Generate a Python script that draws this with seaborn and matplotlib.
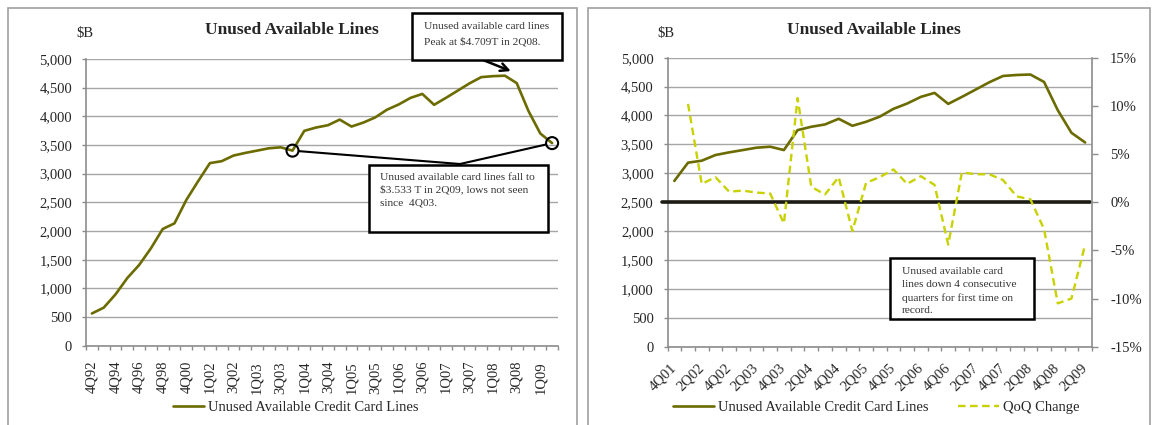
"""plot.py - Unused available credit card lines, two panels (history + QoQ change)."""

import matplotlib
matplotlib.use("Agg")
import matplotlib.pyplot as plt
import matplotlib.patches as mpatches
from matplotlib.ticker import FuncFormatter, MultipleLocator, FixedLocator
import seaborn as sns

# ── data ─────────────────────────────────────────────────────────────────────
# annual year-end points, 4Q92 .. 4Q00 ($B)
annual_labels = ["4Q92", "4Q93", "4Q94", "4Q95", "4Q96", "4Q97", "4Q98", "4Q99", "4Q00"]
annual_lines = [562, 663, 895, 1180, 1407, 1698, 2035, 2134, 2541]

# quarterly points, 4Q01 .. 2Q09 ($B)
quarter_labels = [
    "4Q01", "1Q02", "2Q02", "3Q02", "4Q02", "1Q03", "2Q03", "3Q03", "4Q03",
    "1Q04", "2Q04", "3Q04", "4Q04", "1Q05", "2Q05", "3Q05", "4Q05",
    "1Q06", "2Q06", "3Q06", "4Q06", "1Q07", "2Q07", "3Q07", "4Q07",
    "1Q08", "2Q08", "3Q08", "4Q08", "1Q09", "2Q09",
]
quarter_lines = [
    2868, 3184, 3218, 3316, 3362, 3402, 3443, 3460, 3402,
    3747, 3805, 3845, 3943, 3822, 3891, 3980, 4115,
    4207, 4322, 4391, 4201, 4322, 4448, 4575, 4684,
    4701, 4709, 4580, 4092, 3701, 3533,
]

# quarter-on-quarter change (%), 1Q02 .. 2Q09
qoq_change = [
    10.2, 1.9, 2.6, 1.1, 1.2, 1.0, 0.9, -2.2,
    10.8, 1.6, 0.8, 2.6, -3.0, 2.0, 2.6, 3.4,
    1.9, 2.7, 1.8, -4.4, 3.1, 2.9, 2.9, 2.3,
    0.6, 0.3, -2.8, -10.5, -10.0, -4.4,
]

LINE_COLOR = "#6b6b00"
QOQ_COLOR = "#c8d200"
GRID_COLOR = "#a6a6a6"
SPINE_COLOR = "#8c8c8c"
TEXT_COLOR = "#262626"

# ── style ────────────────────────────────────────────────────────────────────
sns.set_theme(style="white")
plt.rcParams["font.family"] = ["Liberation Serif", "DejaVu Serif"]
plt.rcParams["text.color"] = TEXT_COLOR
plt.rcParams["axes.labelcolor"] = TEXT_COLOR
plt.rcParams["xtick.color"] = TEXT_COLOR
plt.rcParams["ytick.color"] = TEXT_COLOR

W, H = 1154, 425
fig = plt.figure(figsize=(W / 100, H / 100), dpi=100)


def fx(x):
    return x / W


def fy(y):
    return 1 - y / H


def _panel_border(x0, x1):
    fig.patches.append(mpatches.Rectangle(
        (fx(x0), fy(440)), fx(x1 - x0), (440 - 8) / H, transform=fig.transFigure,
        fill=False, edgecolor="#a0a0a0", linewidth=1.2))


def _note_box(x0, y0, x1, y1, lines, tx, ty, step):
    fig.patches.append(mpatches.Rectangle(
        (fx(x0), fy(y1)), fx(x1 - x0), (y1 - y0) / H, transform=fig.transFigure,
        fill=True, facecolor="white", edgecolor="black", linewidth=1.8, zorder=5))
    for i, line in enumerate(lines):
        fig.text(fx(tx), fy(ty + i * step), line, fontsize=8.2, ha="left",
                 va="center", color="#333333", zorder=6)


def _style_value_axis(ax, n):
    ax.set_xlim(-0.5, n - 0.5)
    ax.set_ylim(0, 5000)
    ax.yaxis.set_major_locator(MultipleLocator(500))
    ax.yaxis.set_major_formatter(FuncFormatter(lambda v, _: f"{v:,.0f}"))
    ax.grid(axis="y", color=GRID_COLOR, linewidth=1.0)
    ax.grid(axis="x", visible=False)
    ax.set_axisbelow(True)
    for side in ("top", "right"):
        ax.spines[side].set_visible(False)
    for side in ("left", "bottom"):
        ax.spines[side].set_color(SPINE_COLOR)
        ax.spines[side].set_linewidth(1.2)
    ax.tick_params(axis="y", direction="out", length=3, width=1, color=SPINE_COLOR,
                   pad=7, labelsize=10.5, left=True)
    ax.xaxis.set_minor_locator(FixedLocator([i - 0.5 for i in range(n + 1)]))
    ax.tick_params(axis="x", which="minor", direction="out", length=3, width=1,
                   color=SPINE_COLOR, bottom=True)
    ax.set_xlabel("")
    ax.set_ylabel("")


# ── left panel: full history ─────────────────────────────────────────────────
left_labels = annual_labels + quarter_labels
left_lines = annual_lines + quarter_lines
n_left = len(left_labels)

_panel_border(7.5, 577)
ax1 = fig.add_axes([fx(86), fy(345.7), 472 / W, 286.7 / H])
sns.lineplot(x=list(range(n_left)), y=left_lines, ax=ax1, color=LINE_COLOR,
             linewidth=1.9, legend=False)
_style_value_axis(ax1, n_left)
ax1.set_xticks(range(0, n_left, 2))
ax1.set_xticklabels(left_labels[::2], rotation=90, fontsize=10.5)
ax1.tick_params(axis="x", which="major", length=0, pad=11)

fig.text(fx(292), fy(30), "Unused Available Lines", fontsize=12.5,
         fontweight="bold", ha="center", va="center")
fig.text(fx(85), fy(34), "$B", fontsize=10.5, ha="center", va="center")

fig.legend([ax1.lines[0]], ["Unused Available Credit Card Lines"],
           loc="center left", bbox_to_anchor=(fx(173), fy(407)), frameon=False,
           fontsize=10.5, handlelength=2.1, handletextpad=0.3, borderpad=0,
           borderaxespad=0)

# peak call-out
peak_i = left_lines.index(max(left_lines))
_note_box(411.7, 13.3, 561.7, 60,
          ["Unused available card lines", "Peak at $4.709T in 2Q08."],
          424, 26.5, 15)
ax1.annotate("", xy=(peak_i + 0.5, left_lines[peak_i] + 80), xycoords="data",
             xytext=(483, H - 60), textcoords="figure pixels",
             arrowprops=dict(arrowstyle="->", color="black", lw=1.8,
                             shrinkA=0, shrinkB=0, mutation_scale=14),
             zorder=7)

# low call-out: circles on 4Q03 and 2Q09, joined to the note box
low_pts = [left_labels.index("4Q03"), n_left - 1]
ax1.scatter(low_pts, [left_lines[i] for i in low_pts], s=75, facecolors="none",
            edgecolors="black", linewidths=1.5, zorder=6, clip_on=False)
for i in low_pts:
    ax1.annotate("", xy=(i, left_lines[i]), xycoords="data",
                 xytext=(460, H - 164), textcoords="figure pixels",
                 arrowprops=dict(arrowstyle="-", color="black", lw=1.5,
                                 shrinkA=0, shrinkB=4.5))
_note_box(369, 165, 548, 232,
          ["Unused available card lines fall to",
           "$3.533 T in 2Q09, lows not seen",
           "since  4Q03."],
          380, 177, 12.8)

# ── right panel: recent quarters with QoQ change ─────────────────────────────
n_right = len(quarter_labels)

_panel_border(588, 1150)
ax2 = fig.add_axes([fx(667.5), fy(346.7), 424.5 / W, 289 / H])
sns.lineplot(x=list(range(n_right)), y=quarter_lines, ax=ax2, color=LINE_COLOR,
             linewidth=1.9, legend=False)
_style_value_axis(ax2, n_right)
ax2.set_xticks(range(0, n_right, 2))
ax2.set_xticklabels(quarter_labels[::2], rotation=45, ha="right", va="center",
                    rotation_mode="anchor", fontsize=10.5)
ax2.tick_params(axis="x", which="major", length=0, pad=14)

ax3 = ax2.twinx()
ax3.axhline(0, xmin=(662 - 667.5) / 424.5, xmax=(1090 - 667.5) / 424.5,
            color="#1c1c14", linewidth=2.6, clip_on=False, zorder=1)
sns.lineplot(x=list(range(1, n_right)), y=qoq_change, ax=ax3, color=QOQ_COLOR,
             linewidth=1.7, linestyle=(0, (3.2, 1.9)), legend=False, zorder=3)
ax3.set_xlim(-0.5, n_right - 0.5)
ax3.set_ylim(-15, 15)
ax3.yaxis.set_major_locator(MultipleLocator(5))
ax3.yaxis.set_major_formatter(FuncFormatter(lambda v, _: f"{v:.0f}%"))
ax3.grid(False)
for side in ("top", "left", "bottom"):
    ax3.spines[side].set_visible(False)
ax3.spines["right"].set_color(SPINE_COLOR)
ax3.spines["right"].set_linewidth(1.2)
ax3.tick_params(axis="y", direction="out", length=4, width=1, color=SPINE_COLOR,
                pad=9, labelsize=10.5, right=True)
ax3.set_ylabel("")

fig.text(fx(874), fy(30), "Unused Available Lines", fontsize=12.5,
         fontweight="bold", ha="center", va="center")
fig.text(fx(666), fy(34), "$B", fontsize=10.5, ha="center", va="center")

fig.legend([ax2.lines[0], ax3.lines[-1]],
           ["Unused Available Credit Card Lines", "QoQ Change"],
           loc="center left", bbox_to_anchor=(fx(673), fy(407)), frameon=False,
           fontsize=10.5, ncol=2, handlelength=2.8, handletextpad=0.3,
           columnspacing=2.0, borderpad=0, borderaxespad=0)

_note_box(890, 258, 1034, 319,
          ["Unused available card", "lines down 4 consecutive",
           "quarters for first time on", "record."],
          902, 271.7, 13)

fig.savefig("out.png", dpi=100)
